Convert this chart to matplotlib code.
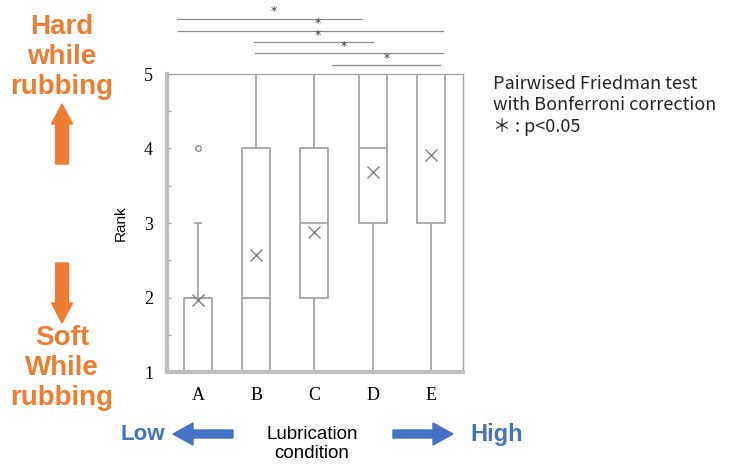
import numpy as np
import matplotlib
matplotlib.use("Agg")
import matplotlib.pyplot as plt

conditions = ['A', 'B', 'C', 'D', 'E']
whislo = [1, 1, 1, 1, 1]
q1 = [1, 1, 2, 3, 3]
med = [2, 2, 3, 4, 5]
q3 = [2, 4, 4, 5, 5]
whishi = [3, 5, 5, 5, 5]
means = [1.96, 2.57, 2.88, 3.69, 3.91]
fliers = [[4], [], [], [], []]

# significance bars: (x start, x end, y level, star x)
sig_x0 = [0.64, 0.66, 1.96, 1.98, 3.30]
sig_x1 = [3.82, 5.20, 4.00, 5.20, 5.15]
sig_y = [5.74, 5.58, 5.43, 5.28, 5.12]
sig_star = [2.30, 3.05, 3.05, 3.50, 4.25]

grey = '#a6a6a6'
orange = '#ed7d31'
blue = '#4472c4'

fig = plt.figure(figsize=(7.41, 4.65), dpi=100)
ax = fig.add_axes([167/741, 1 - 372/465, 296/741, 298/465])

stats = []
for i in range(len(conditions)):
    stats.append(dict(label=conditions[i], whislo=whislo[i], q1=q1[i], med=med[i],
                      q3=q3[i], whishi=whishi[i], mean=means[i], fliers=fliers[i]))

ax.bxp(stats, positions=np.arange(1, 6), widths=0.48, showmeans=True,
       boxprops=dict(color=grey, lw=1.3),
       whiskerprops=dict(color=grey, lw=1.3),
       capprops=dict(color=grey, lw=1.3),
       medianprops=dict(color=grey, lw=1.3),
       capwidths=0.1,
       meanprops=dict(marker='x', markeredgecolor='#7f7f7f', markersize=9, mew=1.0),
       flierprops=dict(marker='o', markerfacecolor='none', markeredgecolor='#7f7f7f',
                       markersize=4, mew=0.9))

ax.set_xlim(0.47, 5.55)
ax.set_ylim(1, 5)
for s in ['top', 'right']:
    ax.spines[s].set_color(grey)
    ax.spines[s].set_linewidth(1.0)
for s in ['left', 'bottom']:
    ax.spines[s].set_color('#bfbfbf')
    ax.spines[s].set_linewidth(3.0)

ax.set_yticks([1, 2, 3, 4, 5])
ax.set_yticks(np.arange(1.5, 5, 1), minor=True)
ax.tick_params(axis='y', which='both', direction='in', length=3, color=grey, width=1,
               labelsize=13, pad=10)
ax.tick_params(axis='x', length=0, labelsize=13, pad=11)
for lab in ax.get_xticklabels() + ax.get_yticklabels():
    lab.set_family('Liberation Serif')
ax.set_ylabel('Rank', fontsize=11, family='Liberation Sans', labelpad=12)

for x0, x1, y, xs in zip(sig_x0, sig_x1, sig_y, sig_star):
    ax.plot([x0, x1], [y, y], color='#8c8c8c', lw=0.9, clip_on=False)
    ax.text(xs, y + 0.005, '*', ha='center', va='bottom', fontsize=9, color='#404040',
            clip_on=False)

# side annotations
fig.text(62/741, 1 - 57/465, 'Hard\nwhile\nrubbing', ha='center', va='center',
         fontsize=20, fontweight='bold', color=orange, family='Liberation Sans',
         linespacing=1.22)
fig.text(62/741, 1 - 368/465, 'Soft\nWhile\nrubbing', ha='center', va='center',
         fontsize=20, fontweight='bold', color=orange, family='Liberation Sans',
         linespacing=1.22)
fig.patches.append(matplotlib.patches.FancyArrow(
    62/741, 1 - 164/465, 0, 60/465, width=8/465, head_width=21/741, head_length=20/465,
    length_includes_head=True, color=orange, transform=fig.transFigure))
fig.patches.append(matplotlib.patches.FancyArrow(
    62/741, 1 - 263/465, 0, -60/465, width=8/465, head_width=21/741, head_length=20/465,
    length_includes_head=True, color=orange, transform=fig.transFigure))

fig.text(143/741, 1 - 435/465, 'Low', ha='center', va='center', fontsize=16,
         fontweight='bold', color=blue, family='Liberation Sans')
fig.text(497/741, 1 - 435/465, 'High', ha='center', va='center', fontsize=17,
         fontweight='bold', color=blue, family='Liberation Sans')
fig.text(312/741, 1 - 444/465, 'Lubrication\ncondition', ha='center', va='center',
         fontsize=13.5, family='Liberation Sans', linespacing=1.15)
fig.patches.append(matplotlib.patches.FancyArrow(
    233/741, 1 - 434/465, -60/741, 0, width=8/465, head_width=22/465, head_length=20/741,
    length_includes_head=True, color=blue, transform=fig.transFigure))
fig.patches.append(matplotlib.patches.FancyArrow(
    393/741, 1 - 434/465, 60/741, 0, width=8/465, head_width=22/465, head_length=20/741,
    length_includes_head=True, color=blue, transform=fig.transFigure))

fig.text(493/741, 1 - 75/465,
         'Pairwised Friedman test\nwith Bonferroni correction\n\uff0a : p<0.05',
         ha='left', va='top', fontsize=13, color='#262626',
         family=['Noto Sans CJK JP', 'DejaVu Sans'], linespacing=1.25)

fig.savefig('out.png', dpi=100)
